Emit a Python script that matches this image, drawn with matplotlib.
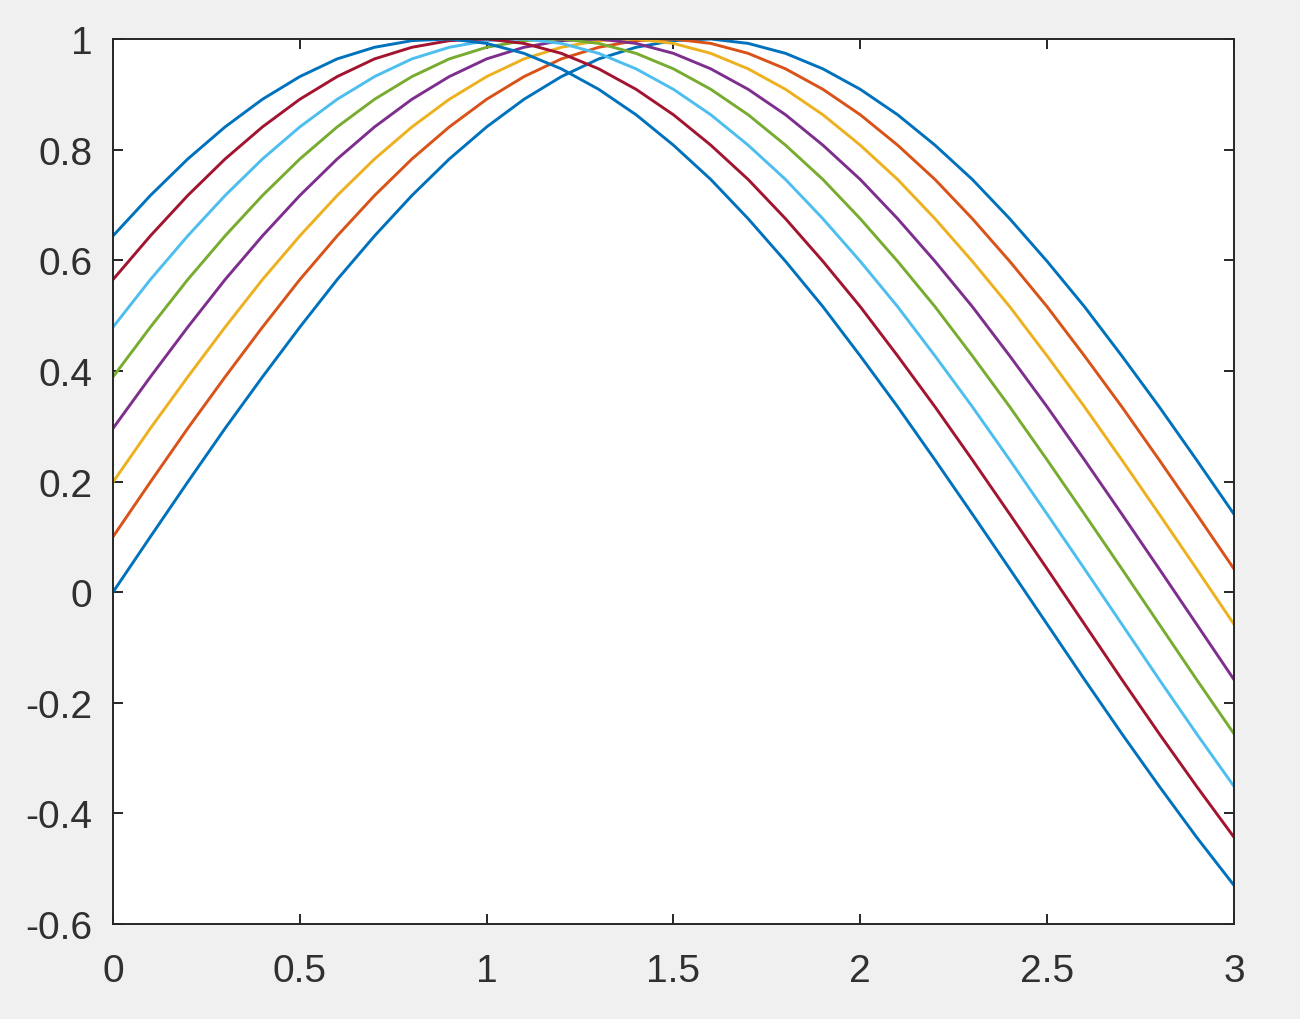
import matplotlib
matplotlib.use('Agg')
import matplotlib.pyplot as plt

# x positions of the samples
x = [0.0, 0.1, 0.2, 0.3, 0.4, 0.5, 0.6, 0.7, 0.8, 0.9, 1.0,
     1.1, 1.2, 1.3, 1.4, 1.5, 1.6, 1.7, 1.8, 1.9, 2.0,
     2.1, 2.2, 2.3, 2.4, 2.5, 2.6, 2.7, 2.8, 2.9, 3.0]

# series values (one list per line)
s1 = [0.000, 0.100, 0.199, 0.296, 0.389, 0.479, 0.565, 0.644, 0.717, 0.783, 0.841,
      0.891, 0.932, 0.964, 0.985, 0.997, 1.000, 0.992, 0.974, 0.946, 0.909,
      0.863, 0.808, 0.746, 0.675, 0.598, 0.516, 0.427, 0.335, 0.239, 0.141]
s2 = [0.100, 0.199, 0.296, 0.389, 0.479, 0.565, 0.644, 0.717, 0.783, 0.841, 0.891,
      0.932, 0.964, 0.985, 0.997, 1.000, 0.992, 0.974, 0.946, 0.909, 0.863,
      0.808, 0.746, 0.675, 0.598, 0.516, 0.427, 0.335, 0.239, 0.141, 0.042]
s3 = [0.199, 0.296, 0.389, 0.479, 0.565, 0.644, 0.717, 0.783, 0.841, 0.891, 0.932,
      0.964, 0.985, 0.997, 1.000, 0.992, 0.974, 0.946, 0.909, 0.863, 0.808,
      0.746, 0.675, 0.598, 0.516, 0.427, 0.335, 0.239, 0.141, 0.042, -0.058]
s4 = [0.296, 0.389, 0.479, 0.565, 0.644, 0.717, 0.783, 0.841, 0.891, 0.932, 0.964,
      0.985, 0.997, 1.000, 0.992, 0.974, 0.946, 0.909, 0.863, 0.808, 0.746,
      0.675, 0.598, 0.516, 0.427, 0.335, 0.239, 0.141, 0.042, -0.058, -0.158]
s5 = [0.389, 0.479, 0.565, 0.644, 0.717, 0.783, 0.841, 0.891, 0.932, 0.964, 0.985,
      0.997, 1.000, 0.992, 0.974, 0.946, 0.909, 0.863, 0.808, 0.746, 0.675,
      0.598, 0.516, 0.427, 0.335, 0.239, 0.141, 0.042, -0.058, -0.158, -0.256]
s6 = [0.479, 0.565, 0.644, 0.717, 0.783, 0.841, 0.891, 0.932, 0.964, 0.985, 0.997,
      1.000, 0.992, 0.974, 0.946, 0.909, 0.863, 0.808, 0.746, 0.675, 0.598,
      0.516, 0.427, 0.335, 0.239, 0.141, 0.042, -0.058, -0.158, -0.256, -0.351]
s7 = [0.565, 0.644, 0.717, 0.783, 0.841, 0.891, 0.932, 0.964, 0.985, 0.997, 1.000,
      0.992, 0.974, 0.946, 0.909, 0.863, 0.808, 0.746, 0.675, 0.598, 0.516,
      0.427, 0.335, 0.239, 0.141, 0.042, -0.058, -0.158, -0.256, -0.351, -0.443]
s8 = [0.644, 0.717, 0.783, 0.841, 0.891, 0.932, 0.964, 0.985, 0.997, 1.000, 0.992,
      0.974, 0.946, 0.909, 0.863, 0.808, 0.746, 0.675, 0.598, 0.516, 0.427,
      0.335, 0.239, 0.141, 0.042, -0.058, -0.158, -0.256, -0.351, -0.443, -0.530]

series = [s1, s2, s3, s4, s5, s6, s7, s8]

xticks = [0, 0.5, 1, 1.5, 2, 2.5, 3]
xticklabels = ['0', '0.5', '1', '1.5', '2', '2.5', '3']
yticks = [-0.6, -0.4, -0.2, 0, 0.2, 0.4, 0.6, 0.8, 1]
yticklabels = ['-0.6', '-0.4', '-0.2', '0', '0.2', '0.4', '0.6', '0.8', '1']

# matlab default line colours
colors = ['#0072BD', '#D95319', '#EDB120', '#7E2F8E', '#77AC30', '#4DBEEE', '#A2142F']

plt.rcParams['font.family'] = ['Liberation Sans', 'DejaVu Sans']

fig = plt.figure(figsize=(13, 10.2), dpi=100, facecolor='#f0f0f0')
ax = fig.add_axes([0.0869, 0.0931, 0.8623, 0.8677])
ax.set_facecolor('white')

for i, s in enumerate(series):
    ax.plot(x, s, color=colors[i % len(colors)], linewidth=2.1, solid_joinstyle='miter')

ax.set_xlim(0, 3)
ax.set_ylim(-0.6, 1)
ax.set_xticks(xticks)
ax.set_xticklabels(xticklabels)
ax.set_yticks(yticks)
ax.set_yticklabels(yticklabels)

textcol = '#303030'
for sp in ax.spines.values():
    sp.set_color('#262626')
    sp.set_linewidth(1.4)
ax.tick_params(direction='in', length=7, width=1.4, color='#262626',
               top=True, right=True, labelsize=28, labelcolor=textcol)
ax.tick_params(axis='x', pad=21)
ax.tick_params(axis='y', pad=15)

fig.savefig('out.png', dpi=100, facecolor=fig.get_facecolor())
